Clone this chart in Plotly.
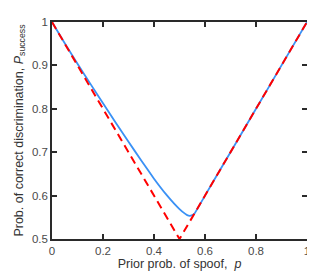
import plotly.graph_objects as go

# Prior probability of spoof
p_blue = [0.0, 0.05, 0.1, 0.15, 0.2, 0.25, 0.3, 0.35, 0.4, 0.45, 0.48, 0.5, 0.52, 0.53, 0.54, 0.55, 0.558, 0.6, 0.7, 0.8, 0.9, 1.0]
P_blue = [1.0, 0.951, 0.904, 0.858, 0.813, 0.768, 0.724, 0.681, 0.639, 0.601, 0.581, 0.569, 0.559, 0.555, 0.5535, 0.555, 0.558, 0.6, 0.7, 0.8, 0.9, 1.0]

p_red = [0.0, 0.5, 1.0]
P_red = [1.0, 0.5, 1.0]

x_ticks = [0, 0.2, 0.4, 0.6, 0.8, 1]
y_ticks = [0.5, 0.6, 0.7, 0.8, 0.9, 1]

fig = go.Figure()
fig.add_trace(go.Scatter(x=p_blue, y=P_blue, mode="lines", line=dict(color="#3a91f5", width=1.8, shape="spline", smoothing=0.3), showlegend=False))
fig.add_trace(go.Scatter(x=p_red, y=P_red, mode="lines", line=dict(color="#ff0000", width=2, dash="8px,5px"), showlegend=False))

axis_common = dict(
    showgrid=False, zeroline=False, showline=True, linecolor="#2a2a2a", linewidth=1.5,
    mirror="ticks", ticks="inside", ticklen=5, tickwidth=1.5, tickcolor="#2a2a2a",
    automargin=False,
    tickfont=dict(family="Liberation Sans, Arial, sans-serif", size=11.5, color="#4a4a4a"),
)

fig.update_layout(
    width=315, height=274,
    margin=dict(l=44, r=16, t=14, b=43),
    paper_bgcolor="white", plot_bgcolor="white",
    font=dict(family="Liberation Sans, Arial, sans-serif", size=12, color="#333333"),
    xaxis=dict(range=[0, 1], tickvals=x_ticks, ticktext=["0", "0.2", "0.4", "0.6", "0.8", "1"],
               title=dict(text="Prior prob. of spoof,  <i>p</i>", standoff=3, font=dict(size=12.5, color="#333333")),
               **axis_common),
    yaxis=dict(range=[0.5, 1], tickvals=y_ticks, ticktext=["0.5", "0.6", "0.7", "0.8", "0.9", "1"],
               title=dict(text="Prob. of correct discrimination, <i>P</i><sub>success</sub>", standoff=6, font=dict(size=12.5, color="#333333")),
               **axis_common),
)

fig.write_html("out.html")
